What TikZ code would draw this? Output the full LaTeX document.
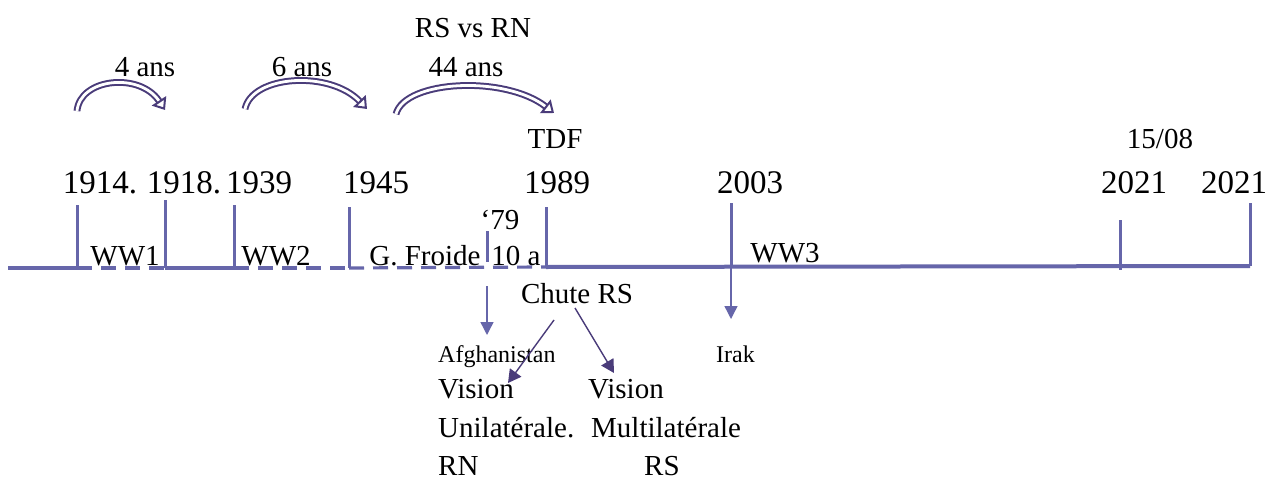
\documentclass[tikz,border=0pt]{standalone}
\usepackage{fontspec}
\setmainfont{Liberation Serif}
\usetikzlibrary{arrows.meta}
\definecolor{tl}{RGB}{102,102,170}
\definecolor{dk}{RGB}{74,60,122}
\begin{document}
\begin{tikzpicture}[x=1pt,y=-1pt,
  yr/.style={font=\fontsize{33}{33}\selectfont, anchor=base, inner sep=0pt},
  lb/.style={font=\fontsize{29}{29}\selectfont, anchor=base, inner sep=0pt},
  sm/.style={font=\fontsize{24}{24}\selectfont, anchor=base, inner sep=0pt},
  tickline/.style={draw=tl, line width=3pt},
  solidline/.style={draw=tl, line width=3.2pt},
  dashline/.style={draw=tl, line width=3.2pt, dash pattern=on 15pt off 9pt},
  thinarrow/.style={draw=tl, line width=1.4pt, -{Triangle[length=13pt, width=13pt]}},
  darkarrow/.style={draw=dk, line width=1.4pt, -{Triangle[length=13pt, width=14pt]}},
  bigarc/.style={draw=dk, line width=2pt, double=white, double distance=2.8pt, -{Triangle[open, length=11pt, width=17pt]}}]
\fill[white] (0,0) rectangle (1274,479);
\useasboundingbox (0,0) rectangle (1274,479);
% tick coordinates
\coordinate (l0) at (8,268);
\coordinate (t14a) at (77,205); \coordinate (t14b) at (77,268);
\coordinate (t18a) at (165,200); \coordinate (t18b) at (165,268);
\coordinate (t39a) at (234,205); \coordinate (t39b) at (234,268);
\coordinate (t45a) at (349,207); \coordinate (t45b) at (349,268);
\coordinate (t79a) at (487,231); \coordinate (t79b) at (487,262);
\coordinate (t89a) at (546,207); \coordinate (t89b) at (546,267);
\coordinate (t03a) at (731,203); \coordinate (t03b) at (731,267);
\coordinate (t21a) at (1120,220); \coordinate (t21b) at (1120,270);
\coordinate (tenda) at (1250,203); \coordinate (tendb) at (1250,266);
% main line
\draw[solidline] (l0) -- (t14b);
\draw[dashline] (t14b) -- (t18b);
\draw[solidline] (t18b) -- (t39b);
\draw[dashline] (t39b) -- (t45b);
\draw[dashline] (t45b) -- (t89b);
\draw[solidline, line width=4pt] (t89b) -- (tendb);
% ticks
\foreach \a/\b in {t14a/t14b, t18a/t18b, t39a/t39b, t45a/t45b, t79a/t79b, t89a/t89b, t03a/t03b, t21a/t21b, tenda/tendb}
  \draw[tickline] (\a) -- (\b);
% years
\node[yr] (y14) at (100,193) {1914.};
\node[yr] (y18) at (184,193) {1918.};
\node[yr] (y39) at (259,193) {1939};
\node[yr] (y45) at (376,193) {1945};
\node[yr] (y89) at (557,193) {1989};
\node[yr] (y03) at (750,193) {2003};
\node[yr] (y21) at (1134,193) {2021};
\node[yr] (yend) at (1234,193) {2021};
\node[lb] (tdf) at (555,148) {TDF};
\node[lb] (d1508) at (1160,148) {15/08};
% period labels
\node[lb] (ww1) at (125,265) {WW1};
\node[lb] (ww2) at (276,265) {WW2};
\node[lb] (gf) at (425,265) {G. Froide};
\node[lb] (dix) at (516,265) {10 a};
\node[lb] (s79) at (500,229) {‘79};
\node[lb] (ww3) at (785,262) {WW3};
% top labels
\node[lb] (rsrn) at (473,37) {RS vs RN};
\node[lb] (a4) at (145,76) {4 ans};
\node[lb] (a6) at (302,76) {6 ans};
\node[lb] (a44) at (466,76) {44 ans};
% curved arrows
\coordinate (c1s) at (77,111); \coordinate (c1e) at (165,110);
\coordinate (c2s) at (245,109); \coordinate (c2e) at (367,109);
\coordinate (c3s) at (396,114); \coordinate (c3e) at (554,113);
\draw[bigarc] (c1s) .. controls (80,78) and (140,72) .. (c1e);
\draw[bigarc] (c2s) .. controls (252,75) and (330,70) .. (c2e);
\draw[bigarc] (c3s) .. controls (405,80) and (505,75) .. (c3e);
% lower part
\node[lb] (chute) at (577,303) {Chute RS};
\node[sm, anchor=base west] (afg) at (438,362) {Afghanistan};
\node[sm, anchor=base west] (irak) at (716,362) {Irak};
\node[lb, anchor=base west] (v1) at (438,398) {Vision};
\node[lb, anchor=base west] (u1) at (438,437) {Unilatérale.};
\node[lb, anchor=base west] (rn) at (438,475) {RN};
\node[lb, anchor=base west] (v2) at (588,398) {Vision};
\node[lb, anchor=base west] (m2) at (591,437) {Multilatérale};
\node[lb, anchor=base west] (rs2) at (644,475) {RS};
\coordinate (a79s) at (487,286); \coordinate (a79e) at (487,335);
\coordinate (irakend) at (731,319);
\coordinate (cl) at (554,320); \coordinate (clend) at (508,383);
\coordinate (cr) at (575,308); \coordinate (crend) at (614,373);
\draw[thinarrow] (a79s) -- (a79e);
\draw[thinarrow] (t03b) -- (irakend);
\draw[darkarrow] (cl) -- (clend);
\draw[darkarrow] (cr) -- (crend);
\end{tikzpicture}
\end{document}
